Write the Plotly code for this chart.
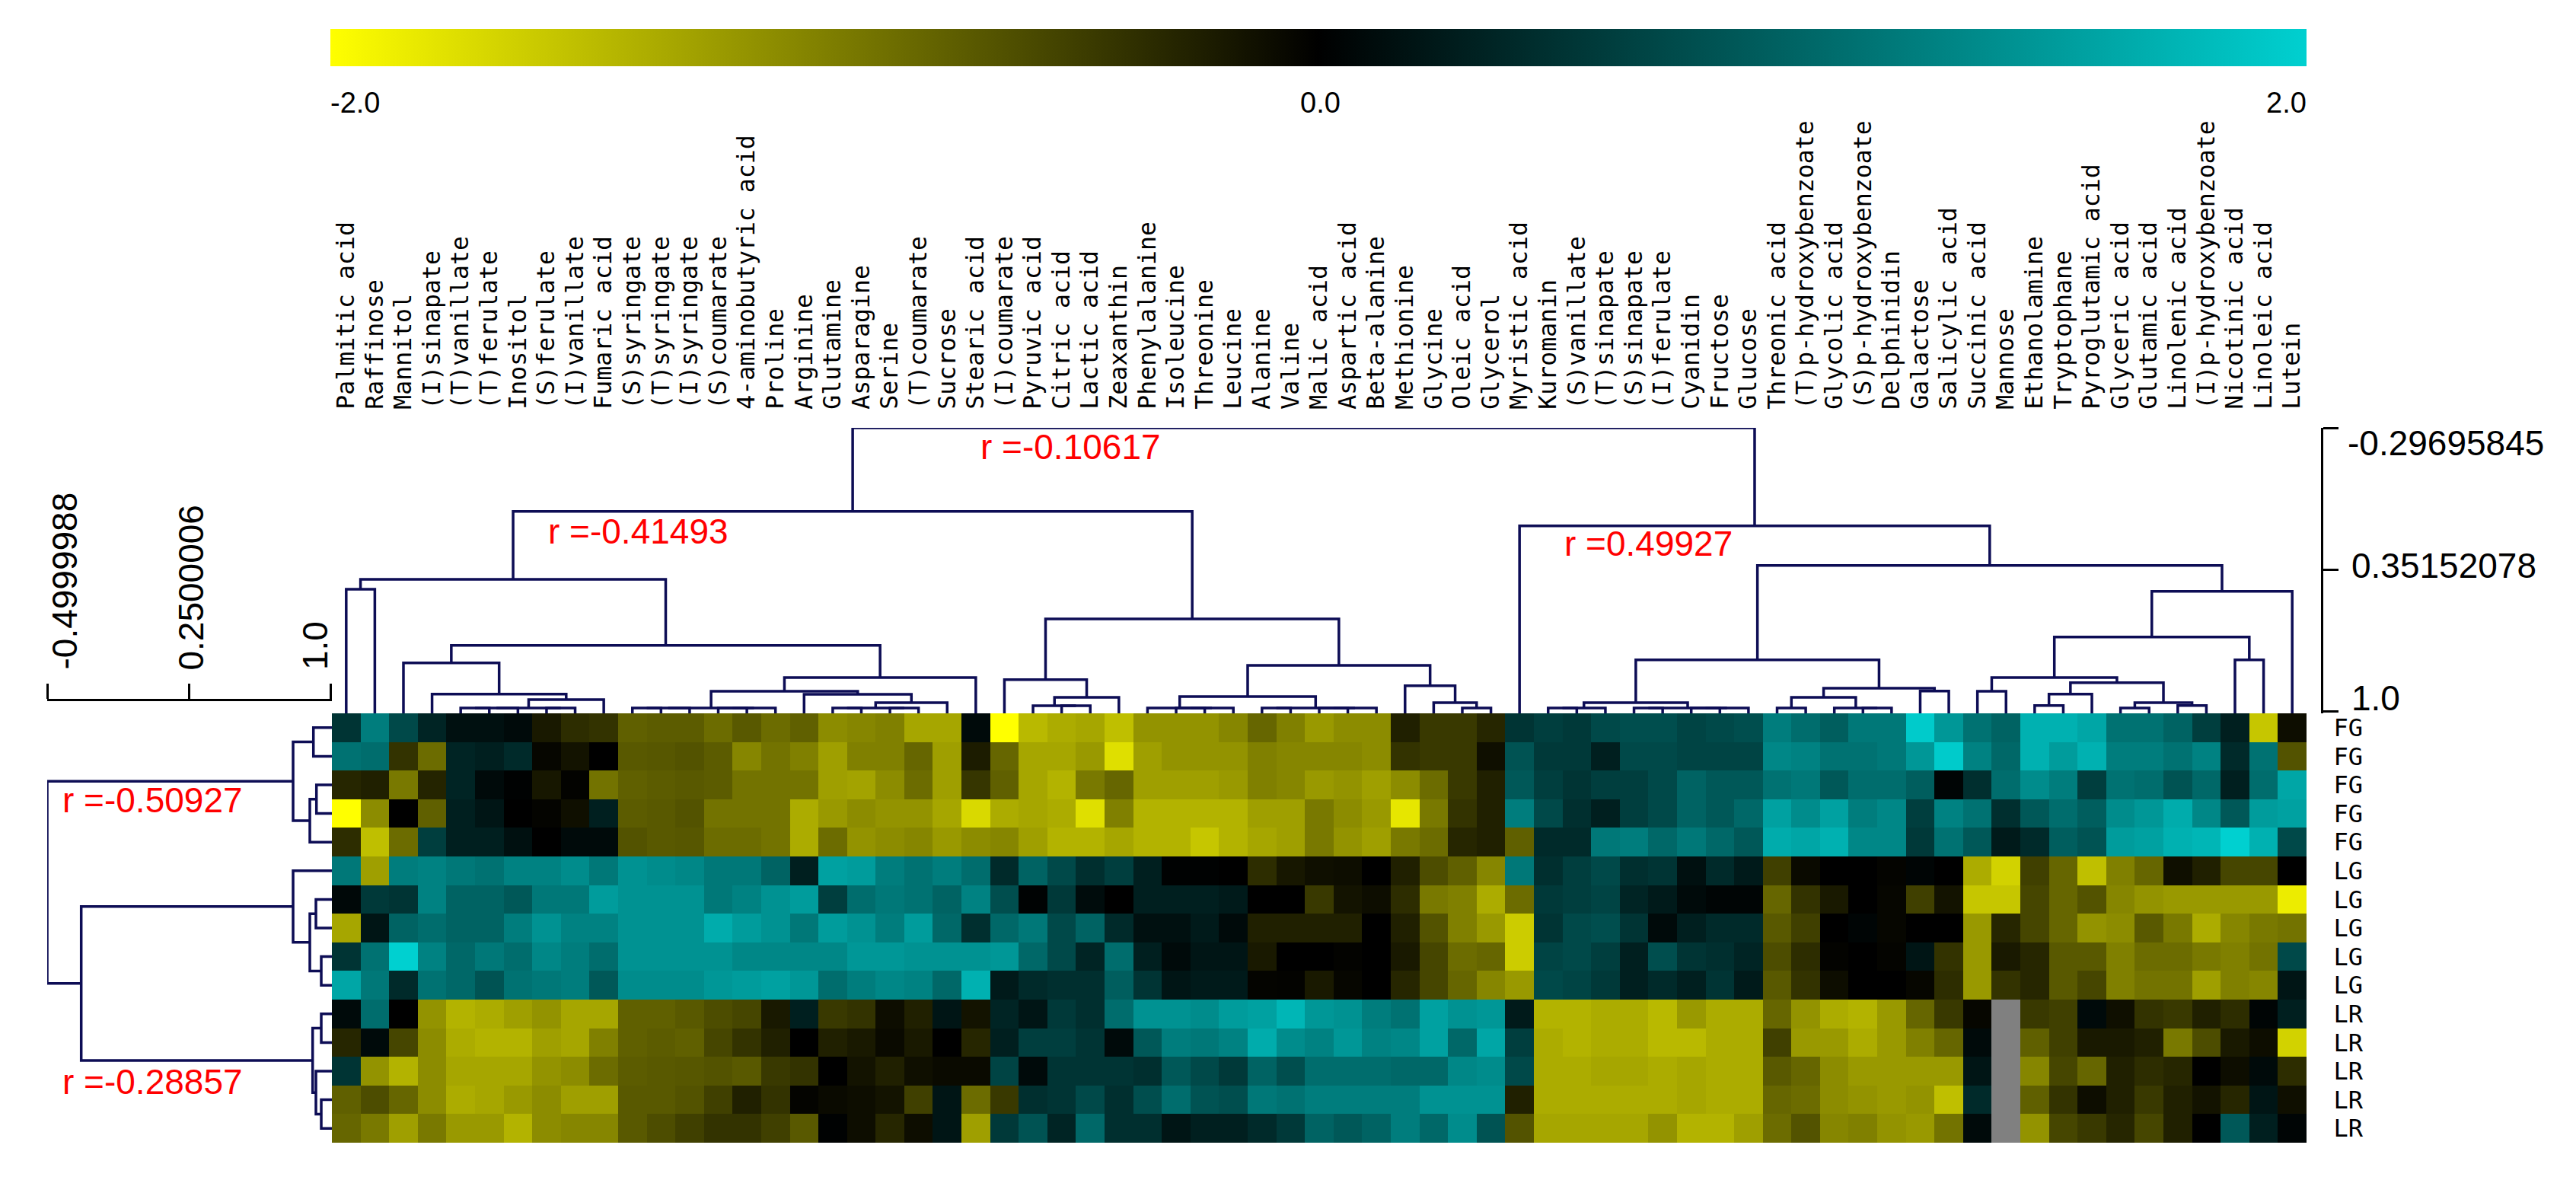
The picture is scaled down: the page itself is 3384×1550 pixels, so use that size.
import math
import plotly.graph_objects as go

W, H = 3384, 1550

METABOLITES = [
    "Palmitic acid", "Raffinose", "Mannitol", "(I)sinapate", "(T)vanillate", "(T)ferulate", "Inositol",
    "(S)ferulate", "(I)vanillate", "Fumaric acid", "(S)syringate", "(T)syringate", "(I)syringate",
    "(S)coumarate", "4-aminobutyric acid", "Proline", "Arginine", "Glutamine", "Asparagine", "Serine",
    "(T)coumarate", "Sucrose", "Stearic acid", "(I)coumarate", "Pyruvic acid", "Citric acid", "Lactic acid",
    "Zeaxanthin", "Phenylalanine", "Isoleucine", "Threonine", "Leucine", "Alanine", "Valine", "Malic acid",
    "Aspartic acid", "Beta-alanine", "Methionine", "Glycine", "Oleic acid", "Glycerol", "Myristic acid",
    "Kuromanin", "(S)vanillate", "(T)sinapate", "(S)sinapate", "(I)ferulate", "Cyanidin", "Fructose",
    "Glucose", "Threonic acid", "(T)p-hydroxybenzoate", "Glycolic acid", "(S)p-hydroxybenzoate",
    "Delphinidin", "Galactose", "Salicylic acid", "Succinic acid", "Mannose", "Ethanolamine", "Tryptophane",
    "Pyroglutamic acid", "Glyceric acid", "Glutamic acid", "Linolenic acid", "(I)p-hydroxybenzoate",
    "Nicotinic acid", "Linoleic acid", "Lutein",
]
SAMPLES = ["FG"] * 5 + ["LG"] * 5 + ["LR"] * 5

NA = None  # metabolite not measured

FG1 = [.5, 1.2, .7, .35, .15, .15, .1, -.2, -.35, -.4, -.75, -.72, -.72, -.85, -.7, -.85, -.75, -1.1, -1.05, -1.0,
       -1.3, -1.3, .1, -2.0, -1.45, -1.35, -1.3, -1.5, -1.15, -1.15, -1.15, -1.05, -.8, -1.0, -1.2, -1.1, -1.1, -.25,
       -.45, -.45, -.3, .5, .6, .55, .7, .75, .75, .65, .7, .75, 1.2, 1.05, .9, 1.15, 1.15, 1.95, 1.45, 1.1, .95, 1.7,
       1.7, 1.6, 1.1, 1.1, .95, .6, .3, -1.55, -.1]
FG2 = [1.1, 1.05, -.4, -.85, .35, .3, .4, -.05, -.15, 0, -.7, -.68, -.65, -.72, -1.05, -.9, -1.0, -1.25, -1.0, -1.0,
       -.8, -1.25, -.22, -.8, -1.3, -1.3, -1.2, -1.75, -1.25, -1.15, -1.15, -1.15, -1.0, -1.05, -1.05, -1.05, -1.1, -.4,
       -.45, -.45, -.12, .8, .55, .55, .3, .7, .7, .65, .65, .65, 1.3, 1.25, 1.1, 1.1, 1.15, 1.45, 1.95, 1.25, 1.0, 1.7,
       1.5, 1.7, 1.2, 1.2, 1.1, 1.25, .4, 1.1, -.65]
FG3 = [-.3, -.25, -.95, -.28, .35, .1, .02, -.18, -.02, -.9, -.75, -.72, -.7, -.72, -.9, -.9, -.9, -1.25, -1.28, -1.1,
       -.85, -1.25, -.42, -.75, -1.3, -1.4, -.95, -.8, -1.25, -1.25, -1.25, -1.2, -1.0, -1.05, -1.2, -1.15, -1.25, -1.1,
       -.85, -.45, -.25, .85, .6, .5, .6, .6, .7, .95, .85, .85, 1.1, 1.15, .85, 1.05, 1.05, .9, .05, .45, 1.05, 1.35,
       1.2, .6, 1.1, 1.05, .8, 1.0, .3, 1.05, 1.6]
FG4 = [-2.0, -1.1, 0, -.75, .3, .2, 0, -.03, -.12, .3, -.72, -.7, -.65, -.9, -.9, -.9, -1.35, -1.2, -1.1, -1.15,
       -1.15, -1.3, -1.7, -1.35, -1.3, -1.35, -1.75, -1.0, -1.4, -1.4, -1.4, -1.4, -1.25, -1.25, -.95, -1.1, -1.2, -1.8,
       -.95, -.4, -.25, 1.2, .7, .45, .3, .6, .7, .95, .85, 1.0, 1.55, 1.35, 1.55, 1.2, 1.3, .6, 1.25, 1.1, .45, .85,
       1.05, .9, 1.35, 1.45, 1.65, 1.3, .85, 1.5, 1.55]
FG5 = [-.35, -1.5, -.85, .6, .3, .3, .15, 0, .1, .1, -.65, -.7, -.68, -.85, -.85, -.9, -1.35, -.85, -1.15, -1.1,
       -1.05, -1.2, -1.1, -1.05, -1.25, -1.4, -1.4, -1.3, -1.4, -1.4, -1.55, -1.4, -1.3, -1.25, -.95, -1.15, -1.25, -.95,
       -.85, -.3, -.25, -.75, .4, .4, 1.15, 1.2, 1.0, 1.15, 1.0, .85, 1.65, 1.6, 1.7, 1.3, 1.3, .55, 1.1, .85, .25, .4,
       .9, .8, 1.5, 1.55, 1.7, 1.75, 2.0, 1.7, .7]
LG1 = [1.15, -1.25, 1.2, 1.25, 1.15, 1.1, 1.25, 1.25, 1.35, 1.15, 1.4, 1.35, 1.3, 1.15, 1.15, .95, .3, 1.55, 1.5, 1.2,
       1.1, 1.2, 1.05, .4, .95, .7, .45, .6, .3, .02, .02, 0, -.35, -.18, -.12, -.1, 0, -.25, -.6, -.75, -1.05, 1.15,
       .45, .6, .7, .45, .5, .15, .4, .25, -.5, -.08, 0, 0, -.03, .05, 0, -1.35, -1.65, -.5, -.8, -1.5, -1.0, -.8, -.12,
       -.25, -.55, -.55, 0]
LG2 = [.08, .55, .5, 1.25, .95, .95, .85, 1.15, 1.15, 1.5, 1.4, 1.4, 1.4, 1.15, 1.25, 1.4, 1.5, .6, 1.05, 1.15, 1.1,
       .95, 1.25, .75, .03, .55, .12, 0, .3, .3, .3, .25, 0, 0, -.45, -.15, -.1, -.35, -.95, -1.0, -1.35, -.85, .55, .6,
       .65, .35, .25, .1, .05, .05, -.8, -.4, -.2, 0, -.05, -.5, -.15, -1.55, -1.55, -.55, -.8, -.65, -1.05, -1.15, -1.2,
       -1.2, -1.2, -1.2, -1.85]
LG3 = [-1.3, .2, .95, 1.05, .95, .95, 1.2, 1.4, 1.25, 1.25, 1.4, 1.4, 1.4, 1.65, 1.5, 1.4, 1.15, 1.5, 1.4, 1.2, 1.5,
       1.0, .45, 1.0, 1.15, .7, .95, .4, .15, .15, .25, .1, -.25, -.25, -.25, -.25, 0, -.25, -.65, -1.0, -1.2, -1.6, .5,
       .7, .75, .5, .1, .3, .4, .4, -.7, -.5, 0, .05, -.05, 0, 0, -1.2, -.3, -.55, -.8, -1.15, -1.1, -.7, -.95, -1.35,
       -1.05, -.95, -.9]
LG4 = [.5, 1.1, 2.0, 1.25, 1.0, 1.15, 1.05, 1.3, 1.2, 1.05, 1.4, 1.4, 1.4, 1.4, 1.3, 1.3, 1.3, 1.3, 1.45, 1.45, 1.4,
       1.4, 1.4, 1.45, 1.0, .7, .35, 1.05, .3, .1, .2, .2, -.2, 0, 0, -.02, 0, -.2, -.55, -.85, -.8, -1.6, .65, .7, .6,
       .3, .75, .5, .45, .35, -.6, -.35, -.02, 0, -.03, .2, -.4, -1.2, -.2, -.3, -.7, -.7, -1.0, -.85, -.85, -.95, -1.0,
       -.9, .7]
LG5 = [1.6, 1.15, .4, 1.1, 1.0, .8, 1.1, 1.15, 1.2, .85, 1.35, 1.35, 1.35, 1.45, 1.5, 1.55, 1.45, 1.05, 1.2, 1.3, 1.25,
       1.0, 1.7, .25, .4, .45, .45, .9, .5, .2, .25, .25, -.03, -.02, -.2, -.05, 0, -.3, -.55, -.8, -1.05, -1.2, .7, .65,
       .55, .3, .4, .3, .5, .25, -.7, -.4, -.1, 0, 0, -.05, -.35, -1.2, -.4, -.3, -.7, -.55, -1.0, -.9, -.9, -1.25, -1.0,
       -1.05, .2]
LR1 = [.1, 1.05, 0, -1.15, -1.4, -1.35, -1.25, -1.15, -1.3, -1.3, -.75, -.75, -.7, -.6, -.55, -.2, .3, -.45, -.4, -.1,
       -.25, .2, -.15, .35, .2, .55, .45, 1.05, 1.4, 1.4, 1.35, 1.5, 1.55, 1.75, 1.45, 1.4, 1.2, 1.1, 1.55, 1.4, 1.45, .25,
       -1.4, -1.4, -1.35, -1.35, -1.45, -1.2, -1.35, -1.35, -.8, -1.15, -1.35, -1.4, -1.2, -.8, -.45, -.05, NA, -.45, -.5,
       .1, -.12, -.4, -.45, -.25, -.35, .05, .3]
LR2 = [-.3, .1, -.55, -1.1, -1.35, -1.4, -1.4, -1.25, -1.3, -1.0, -.75, -.72, -.75, -.55, -.4, -.25, 0, -.25, -.2, -.08,
       -.2, 0, -.3, .3, .6, .6, .5, .1, .85, 1.2, 1.15, 1.25, 1.65, 1.35, 1.25, 1.45, 1.25, 1.3, 1.55, 1.0, 1.6, .6, -1.35,
       -1.4, -1.35, -1.35, -1.45, -1.45, -1.35, -1.35, -.5, -1.2, -1.2, -1.35, -1.2, -1.0, -.8, .1, NA, -.75, -.5, -.2, -.2,
       -.25, -.95, -.6, -.2, -.1, -1.65]
LR3 = [.5, -1.15, -1.4, -1.1, -1.3, -1.3, -1.3, -1.15, -1.1, -.85, -.72, -.7, -.68, -.65, -.7, -.45, -.4, 0, -.15, -.25,
       -.12, -.08, -.08, .65, .1, .5, .5, .5, .45, .85, .7, .55, .95, .75, 1.05, 1.05, 1.05, 1.0, 1.0, 1.3, 1.35, .7, -1.35,
       -1.35, -1.3, -1.3, -1.35, -1.3, -1.35, -1.35, -.7, -.8, -1.1, -1.2, -1.2, -1.2, -1.2, .2, NA, -1.05, -.55, -.8, -.25,
       -.35, -.3, 0, -.1, .1, -.35]
LR4 = [-.75, -.6, -.8, -1.1, -1.35, -1.3, -1.2, -1.1, -1.25, -1.25, -.7, -.7, -.65, -.5, -.25, -.4, -.03, -.08, -.1, -.15,
       -.5, .2, -.85, -.45, .45, .5, .7, .45, .75, 1.05, .8, .75, 1.15, 1.1, 1.2, 1.2, 1.2, 1.2, 1.4, 1.4, 1.4, -.25, -1.35,
       -1.35, -1.35, -1.35, -1.35, -1.3, -1.35, -1.35, -.8, -.85, -1.1, -1.15, -1.2, -1.15, -1.5, .4, NA, -.75, -.4, -.1, -.25,
       -.45, -.25, -.15, -.3, .2, -.12]
LR5 = [-.8, -.95, -1.25, -.95, -1.2, -1.2, -1.4, -1.1, -1.05, -1.05, -.7, -.6, -.5, -.4, -.4, -.5, -.7, .02, -.1, -.3,
       -.1, .2, -1.25, .55, .8, .35, 1.0, .45, .45, .2, .3, .3, .4, .55, .95, .85, .95, 1.2, 1.0, 1.35, .8, -.65, -1.3, -1.3,
       -1.3, -1.3, -1.15, -1.4, -1.4, -1.25, -.85, -.65, -1.05, -1.0, -1.15, -1.2, -.9, .1, NA, -1.15, -.55, -.45, -.3, -.55,
       -.25, 0, .85, .3, .05]
EXPRESSION = [FG1, FG2, FG3, FG4, FG5, LG1, LG2, LG3, LG4, LG5, LR1, LR2, LR3, LR4, LR5]

# Cluster trees: (merge level, left child, right child); a bare int is a leaf index.
LEFT_ARM = (.395, (.4402, 0, 1), (.6965,
    (.7764, 2, (.9190, 3, (.9444, (.9826, (.9826, (.9826, 4, 5), 6), (.9826, 7, 8)), 9))),
    (.8435, (.9061,
             (.9826, (.9826, (.9826, 10, 11), 12), (.9826, (.9826, 13, 14), 15)),
             (.9200, 16, (.9583, (.9826, (.9826, 17, 18), (.9826, 19, 20)), 21))), 22)))
MID_ARM = (.5758,
    (.8529, 23, (.9339, (.9722, 24, (.9722, 25, 26)), 27)),
    (.7879,
     (.9305, (.9826, 28, (.9826, (.9826, 29, 30), 31)),
      (.9826, (.9826, 32, 33), (.9826, (.9826, 34, 35), 36))),
     (.8807, 37, (.9583, 38, (.9826, 39, 40)))))
RIGHT_ARM = (.1506, 41, (.3314,
    (.7625,
     (.9583, (.9826, (.9826, 42, 43), 44), (.9826, (.9826, 45, 46), (.9826, (.9826, 47, 48), 49))),
     (.8922, (.9339, (.9826, 50, 51), (.9826, 52, (.9826, 53, 54))), (.9051, 55, 56))),
    (.4496,
     (.6582,
      (.8435, (.9061, 57, 58),
       (.8668, (.9190, (.9711, 59, 60), 61), (.9583, (.9826, 62, 63), (.9711, 64, 65)))),
      (.7625, 66, 67)),
     68)))
COLUMN_TREE = (-.29695845, (.0845, LEFT_ARM, MID_ARM), RIGHT_ARM)

ROW_TREE = (-.4999988,
    (.8024, (.9101, 0, 1), (.8911, (.9262, 2, 3), 4)),
    (-.3198,
     (.8024, 5, (.8911, (.9234, 6, 7), (.9516, 8, 9))),
     (.9060, (.9516, 10, 11), (.9234, 12, (.9516, 13, 14)))))

COLUMN_SCALE = [-.29695845, .35152078, 1.0]
ROW_SCALE = [-.4999988, .2500006, 1.0]
COLOR_TICKS = ["-2.0", "0.0", "2.0"]

LINE_COLOR = "#0d0d55"
NUMBER_FONT = "Liberation Sans"
LABEL_FONT = "DejaVu Sans Mono"
COL_BASE, ROW_BASE = 1.007, 1.008


def tree_paths(tree, base):
    """Walk a merge tree and return the elbow polylines as leaf-position and level lists."""
    pos, lev = [], []

    def walk(node):
        if isinstance(node, int):
            return float(node), base
        level, a, b = node
        pa, la = walk(a)
        pb, lb = walk(b)
        pos.extend([pa, pa, pb, pb, None])
        lev.extend([la, level, level, lb, None])
        return (pa + pb) / 2, level

    walk(tree)
    return pos, lev


def fx(px):
    return px / W


def fy(px):
    return 1 - px / H


n_rows, n_cols = len(EXPRESSION), len(METABOLITES)
z_values = [[math.nan if v is None else v for v in row] for row in EXPRESSION]
z_missing = [[1 if v is None else math.nan for v in row] for row in EXPRESSION]

fig = go.Figure()

fig.add_trace(go.Heatmap(
    z=z_values, x=list(range(n_cols)), y=list(range(n_rows)),
    zmin=-2, zmax=2, hoverongaps=False,
    colorscale=[[0, "rgb(255,255,0)"], [.5, "rgb(0,0,0)"], [1, "rgb(0,208,208)"]],
    colorbar=dict(
        orientation="h", x=fx(434), xanchor="left", len=(3030 - 434) / W, lenmode="fraction",
        y=fy(87), yanchor="bottom", thickness=49, thicknessmode="pixels",
        xpad=0, ypad=0, outlinewidth=0, ticks="", showticklabels=False,
    ),
))
fig.add_trace(go.Heatmap(
    z=z_missing, x=list(range(n_cols)), y=list(range(n_rows)), zmin=0, zmax=1,
    colorscale=[[0, "#808080"], [1, "#808080"]], showscale=False, hoverinfo="skip",
))

col_pos, col_lev = tree_paths(COLUMN_TREE, COL_BASE)
fig.add_trace(go.Scatter(
    x=col_pos, y=col_lev, xaxis="x2", yaxis="y2", mode="lines", cliponaxis=False,
    line=dict(color=LINE_COLOR, width=3.5), hoverinfo="skip", showlegend=False,
))
row_pos, row_lev = tree_paths(ROW_TREE, ROW_BASE)
fig.add_trace(go.Scatter(
    x=row_lev, y=row_pos, xaxis="x3", yaxis="y3", mode="lines", cliponaxis=False,
    line=dict(color=LINE_COLOR, width=3.5), hoverinfo="skip", showlegend=False,
))

heat_x = [fx(436), fx(3030)]
heat_y = [fy(1501), fy(937)]
hidden = dict(showgrid=False, zeroline=False, showticklabels=False, ticks="", showline=False)
ruler = dict(showgrid=False, zeroline=False, showticklabels=False, ticks="outside", ticklen=20, tickwidth=3,
             tickcolor="#000000", showline=True, linewidth=3, linecolor="#000000", tickmode="array")
clear_tick = "rgba(0,0,0,0)"

fig.update_layout(
    width=W, height=H, autosize=False, showlegend=False,
    margin=dict(l=0, r=0, t=0, b=0), paper_bgcolor="white", plot_bgcolor="white",
    xaxis=dict(domain=heat_x, range=[-.5, n_cols - .5], anchor="y", **hidden),
    yaxis=dict(
        domain=heat_y, range=[n_rows - .5, -.5], anchor="x", side="right", showgrid=False, zeroline=False,
        tickmode="array", tickvals=list(range(n_rows)), ticktext=SAMPLES, ticks="outside", ticklen=28,
        tickcolor=clear_tick, showline=False, tickfont=dict(family=LABEL_FONT, size=32, color="#000000"),
    ),
    xaxis2=dict(
        domain=heat_x, range=[-.5, n_cols - .5], anchor="y2", side="top", showgrid=False, zeroline=False,
        tickmode="array", tickvals=list(range(n_cols)), ticktext=METABOLITES, tickangle=-90,
        ticks="outside", ticklen=17, tickcolor=clear_tick, showline=False,
        tickfont=dict(family=LABEL_FONT, size=31.5, color="#000000"),
    ),
    yaxis2=dict(
        domain=[fy(937), fy(562)], range=[COL_BASE, COLUMN_SCALE[0]], anchor="free", position=fx(3049.5),
        side="right", tickvals=COLUMN_SCALE, **ruler,
    ),
    xaxis3=dict(
        domain=[fx(62), fx(436)], range=[ROW_SCALE[0], ROW_BASE], anchor="free", position=fy(919),
        side="top", tickvals=ROW_SCALE, **ruler,
    ),
    yaxis3=dict(domain=heat_y, range=[n_rows - .5, -.5], anchor="x3", **hidden),
)


def note(text, x, y, xanchor="left", color="#000000", size=46, angle=0, yanchor="middle", family=NUMBER_FONT):
    fig.add_annotation(
        text=text, x=fx(x), y=fy(y), xref="paper", yref="paper", xanchor=xanchor, yanchor=yanchor,
        showarrow=False, textangle=angle, font=dict(family=family, size=size, color=color),
        borderpad=0, borderwidth=0,
    )


# Colour key labels
note(COLOR_TICKS[0], 434, 135, size=38)
note(COLOR_TICKS[1], 1734, 135, xanchor="center", size=38)
note(COLOR_TICKS[2], 3030, 135, xanchor="right", size=38)

# Level scale labels
note("%.8f" % COLUMN_SCALE[0], 3084, 582)
note("%.8f" % COLUMN_SCALE[1], 3089, 743)
note("%.1f" % COLUMN_SCALE[2], 3089, 917)
note("%.7f" % ROW_SCALE[0], 84, 880, xanchor="center", angle=-90, yanchor="bottom")
note("%.7f" % ROW_SCALE[1], 250, 880, xanchor="center", angle=-90, yanchor="bottom")
note("%.1f" % ROW_SCALE[2], 414, 880, xanchor="center", angle=-90, yanchor="bottom")

# Correlations at the major branch points
for text, x, y in [("r =-0.10617", 1288, 587), ("r =-0.41493", 720, 698), ("r =0.49927", 2055, 714),
                   ("r =-0.50927", 82, 1051), ("r =-0.28857", 82, 1421)]:
    note(text, x, y, color="#ff0000")

fig.write_html("out.html")
